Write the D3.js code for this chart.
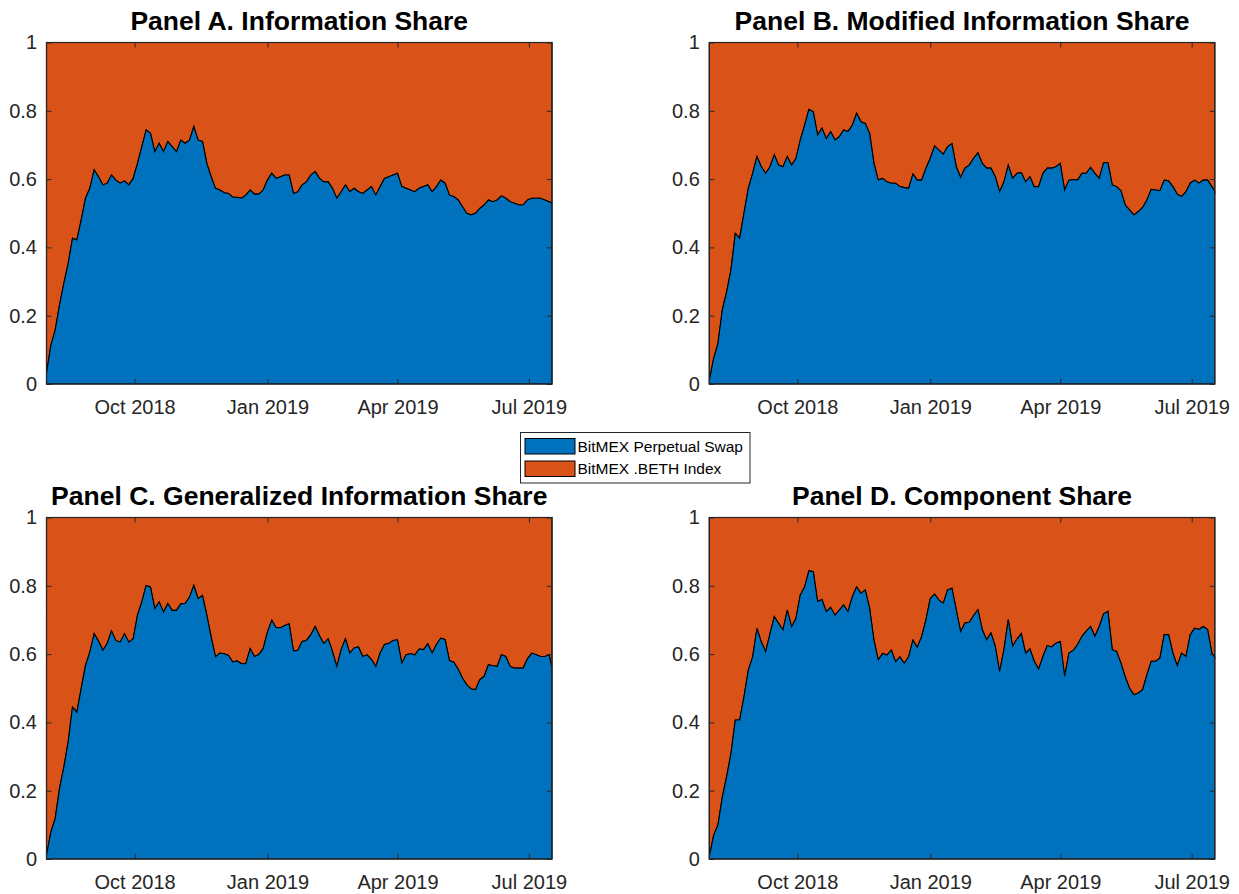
<!DOCTYPE html>
<html lang="en">
  <head>
    <meta charset="utf-8" />
    <title>Information shares</title>
    <script src="https://cdn.jsdelivr.net/npm/d3@7"></script>
    <style>
      body { margin: 0; background: #fff; }
      svg { display: block; font-family: "Liberation Sans", Arial, sans-serif; }
    </style>
  </head>
  <body>
    <svg id="chart" width="1239" height="894"></svg>
    <script>
      // sampling grid: every 3 days from 1 Aug 2018, plus the last day 17 Jul 2019
      const startDate = new Date(2018, 7, 1);
      const endDate = new Date(2019, 6, 17);
      const dates = d3.timeDay.range(startDate, endDate, 3).concat([endDate]);

      const seriesNames = ["BitMEX Perpetual Swap", "BitMEX .BETH Index"];
      const colors = ["#0072BD", "#D95319"];

      const xTicks = [new Date(2018, 9, 1), new Date(2019, 0, 1), new Date(2019, 3, 1), new Date(2019, 6, 1)];
      const xTickLabels = ["Oct 2018", "Jan 2019", "Apr 2019", "Jul 2019"];
      const yTicks = [0, 0.2, 0.4, 0.6, 0.8, 1];
      const yTickLabels = ["0", "0.2", "0.4", "0.6", "0.8", "1"];

      // share of the perpetual swap (the index share is 1 minus this)
      const infoShare = [0.03,0.114,0.158,0.231,0.295,0.353,0.427,0.422,0.48,0.544,0.573,0.627,0.607,0.583,0.588,0.612,0.597,0.588,0.595,0.583,
        0.602,0.646,0.695,0.744,0.734,0.68,0.705,0.68,0.71,0.695,0.68,0.714,0.705,0.714,0.754,0.714,0.71,0.646,0.607,0.573,
        0.568,0.56,0.558,0.547,0.547,0.544,0.553,0.568,0.556,0.556,0.568,0.597,0.617,0.602,0.607,0.612,0.612,0.558,0.563,
        0.583,0.592,0.612,0.622,0.602,0.592,0.592,0.573,0.544,0.563,0.583,0.563,0.573,0.563,0.558,0.568,0.578,0.553,0.578,0.602,
        0.607,0.612,0.617,0.578,0.573,0.568,0.563,0.573,0.578,0.583,0.563,0.578,0.597,0.588,0.553,0.549,0.539,0.519,0.5,0.495,
        0.5,0.514,0.524,0.539,0.534,0.539,0.551,0.544,0.534,0.529,0.524,0.524,0.539,0.544,0.544,0.544,0.539,0.534,0.53];

      const modInfoShare = [0.01,0.075,0.119,0.217,0.27,0.334,0.441,0.427,0.5,0.573,0.617,0.666,0.636,0.617,0.636,0.671,0.641,0.636,0.666,0.641,
        0.661,0.715,0.758,0.804,0.797,0.729,0.749,0.719,0.739,0.715,0.724,0.744,0.739,0.758,0.793,0.768,0.763,0.734,0.646,0.597,
        0.602,0.592,0.588,0.588,0.578,0.575,0.573,0.615,0.597,0.597,0.632,0.661,0.697,0.685,0.673,0.695,0.704,0.636,0.605,
        0.632,0.641,0.661,0.677,0.646,0.632,0.632,0.607,0.563,0.592,0.641,0.602,0.617,0.619,0.592,0.607,0.578,0.578,0.617,0.632,
        0.632,0.636,0.646,0.568,0.597,0.599,0.597,0.617,0.617,0.634,0.617,0.602,0.648,0.648,0.583,0.578,0.566,0.524,0.51,0.495,
        0.505,0.517,0.539,0.57,0.568,0.566,0.597,0.595,0.578,0.556,0.549,0.563,0.588,0.597,0.588,0.597,0.597,0.578,0.563];

      const genInfoShare = [0.011,0.079,0.118,0.206,0.269,0.343,0.445,0.43,0.499,0.567,0.606,0.66,0.638,0.611,0.631,0.668,0.64,0.635,0.66,0.635,
        0.645,0.714,0.753,0.801,0.796,0.733,0.753,0.723,0.748,0.728,0.728,0.747,0.748,0.767,0.801,0.762,0.772,0.714,0.65,0.592,
        0.603,0.601,0.596,0.577,0.58,0.572,0.572,0.616,0.593,0.599,0.616,0.665,0.699,0.677,0.677,0.684,0.689,0.609,0.611,
        0.637,0.64,0.657,0.681,0.654,0.631,0.645,0.608,0.564,0.613,0.645,0.603,0.618,0.621,0.593,0.598,0.584,0.564,0.603,0.628,
        0.632,0.64,0.642,0.574,0.598,0.601,0.598,0.615,0.613,0.63,0.603,0.628,0.647,0.642,0.581,0.576,0.556,0.53,0.51,0.498,
        0.496,0.525,0.535,0.569,0.566,0.564,0.598,0.593,0.564,0.559,0.559,0.559,0.586,0.603,0.598,0.593,0.593,0.598,0.559];

      const compShare = [0.007,0.07,0.1,0.181,0.241,0.309,0.407,0.407,0.475,0.553,0.592,0.675,0.636,0.607,0.659,0.71,0.69,0.671,0.729,0.68,
        0.705,0.773,0.797,0.844,0.841,0.754,0.76,0.724,0.737,0.714,0.729,0.744,0.724,0.768,0.797,0.778,0.788,0.734,0.641,0.583,
        0.602,0.597,0.612,0.578,0.592,0.573,0.592,0.641,0.62,0.651,0.7,0.763,0.776,0.758,0.749,0.788,0.793,0.729,0.666,
        0.691,0.693,0.713,0.73,0.672,0.642,0.662,0.623,0.549,0.613,0.701,0.623,0.644,0.66,0.603,0.615,0.579,0.556,0.593,0.625,
        0.621,0.632,0.637,0.535,0.603,0.611,0.628,0.652,0.667,0.681,0.652,0.681,0.718,0.725,0.613,0.608,0.574,0.533,0.5,0.481,
        0.486,0.496,0.54,0.579,0.579,0.588,0.657,0.657,0.603,0.566,0.603,0.593,0.657,0.676,0.672,0.681,0.672,0.603,0.59];

      const panelTitles = ["Panel A. Information Share", "Panel B. Modified Information Share",
        "Panel C. Generalized Information Share", "Panel D. Component Share"];
      const panelValues = [infoShare, modInfoShare, genInfoShare, compShare];

      const svg = d3.select("#chart");
      const axisColor = "#262626";

      // panel boxes (left, top) ; all the same size
      const plotW = 505.5, plotH = 341.5;
      const origins = [[46.5, 42.5], [709.3, 42.5], [46.5, 517.5], [709.3, 517.5]];

      const x = d3.scaleTime().domain([startDate, endDate]).range([0, plotW]);
      const y = d3.scaleLinear().domain([0, 1]).range([plotH, 0]);

      panelValues.forEach((vals, i) => {
        const data = dates.map((d, j) => ({ date: d, v: vals[j] }));
        const g = svg.append("g").attr("transform", `translate(${origins[i][0]},${origins[i][1]})`);

        // orange on top (1 - share), blue below
        g.append("path")
          .datum(data)
          .attr("fill", colors[1])
          .attr("stroke", "#000")
          .attr("stroke-width", 1.1)
          .attr("d", d3.area().x(d => x(d.date)).y0(d => y(d.v)).y1(y(1)));

        g.append("path")
          .datum(data)
          .attr("fill", colors[0])
          .attr("stroke", "#000")
          .attr("stroke-width", 1.1)
          .attr("d", d3.area().x(d => x(d.date)).y0(y(0)).y1(d => y(d.v)));

        // axes, ticks pointing inward like matlab
        g.append("g").attr("transform", `translate(0,${plotH})`)
          .call(d3.axisBottom(x).tickValues(xTicks).tickSize(-5).tickPadding(16)
            .tickFormat((d, k) => xTickLabels[k]));
        g.append("g").call(d3.axisTop(x).tickValues(xTicks).tickSize(-5).tickFormat(""));
        g.append("g")
          .call(d3.axisLeft(y).tickValues(yTicks).tickSize(-5).tickPadding(9.5)
            .tickFormat((d, k) => yTickLabels[k]));
        g.append("g").attr("transform", `translate(${plotW},0)`)
          .call(d3.axisRight(y).tickValues(yTicks).tickSize(-5).tickFormat(""));

        g.selectAll(".domain").remove();
        g.selectAll(".tick line").attr("stroke", axisColor).attr("stroke-width", 1);
        g.selectAll(".tick text").attr("fill", axisColor).style("font-size", "20px")
          .style("font-family", "'Liberation Sans', Arial, sans-serif");

        g.append("rect")
          .attr("width", plotW).attr("height", plotH)
          .attr("fill", "none").attr("stroke", axisColor).attr("stroke-width", 1.2);

        g.append("text")
          .attr("x", plotW / 2).attr("y", -13)
          .attr("text-anchor", "middle")
          .attr("font-size", "26.5px")
          .attr("font-weight", "bold")
          .attr("fill", "#000")
          .text(panelTitles[i]);
      });

      // legend
      const legend = svg.append("g").attr("transform", "translate(520.5,432.5)");
      legend.append("rect").attr("width", 229.5).attr("height", 50.5)
        .attr("fill", "#fff").attr("stroke", axisColor).attr("stroke-width", 1);
      seriesNames.forEach((name, i) => {
        legend.append("rect")
          .attr("x", 4.5).attr("y", 6 + i * 22.5)
          .attr("width", 50).attr("height", 15.5)
          .attr("fill", colors[i]).attr("stroke", "#000").attr("stroke-width", 1);
        legend.append("text")
          .attr("x", 57).attr("y", 14 + i * 22.5)
          .attr("dy", "0.35em")
          .attr("font-size", "15.5px")
          .attr("fill", "#000")
          .text(name);
      });
    </script>
  </body>
</html>
